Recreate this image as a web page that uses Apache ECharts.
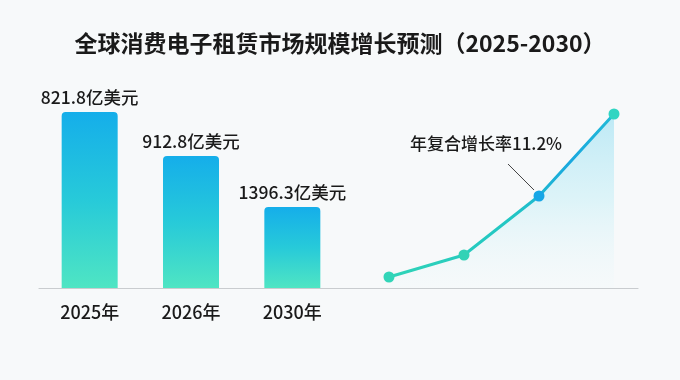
<!DOCTYPE html>
<html><head><meta charset="utf-8">
<script src="https://cdn.jsdelivr.net/npm/echarts@6/dist/echarts.min.js"></script>
<style>html,body{margin:0;padding:0;background:#f7f9fa;}#c{width:680px;height:380px;}</style>
</head><body><div id="c"></div>
<script>
// ---- data ----
const titleText = '全球消费电子租赁市场规模增长预测（2025-2030）';
const years = ['2025年', '2026年', '2030年'];
const marketValues = [821.8, 912.8, 1396.3];           // 亿美元 (label values)
const barHeights = [176, 132, 81];                     // bar heights as drawn in picture
const trendValues = [11, 33, 92, 174];                 // trend line as drawn in picture
const cagrText = '年复合增长率11.2%';
const cagrIndex = 2;

const FONT = '"Noto Sans CJK SC","Noto Sans",sans-serif';
const pointColors = ['#32d5b8', '#32d2b6', '#17a6e6', '#30d5c2'];

const chart = echarts.init(document.getElementById('c'), null, {renderer: 'canvas'});
const barGrad = new echarts.graphic.LinearGradient(0, 0, 0, 1, [
  {offset: 0, color: '#15aeea'}, {offset: 0.5, color: '#27cad9'}, {offset: 1, color: '#4fe5c3'}
]);
chart.setOption({
  backgroundColor: '#f7f9fa',
  textStyle: {fontFamily: FONT},
  title: {text: titleText, left: 'center', top: 27,
    textStyle: {fontSize: 23, fontWeight: 'bold', color: '#1a1a1a', fontFamily: FONT}},
  grid: [
    {left: 39, width: 304, top: 88, height: 200},
    {left: 343, width: 295, top: 88, height: 200}
  ],
  xAxis: [
    {type: 'category', gridIndex: 0, data: years,
      axisLine: {lineStyle: {color: '#c9cccf', width: 1.2}}, axisTick: {show: false},
      axisLabel: {fontSize: 18, fontWeight: 500, color: '#1a1a1a', margin: 15, fontFamily: FONT}},
    {type: 'value', gridIndex: 1, min: -0.613, max: 3.32,
      axisLine: {show: true, onZero: false, lineStyle: {color: '#c9cccf', width: 1.2}},
      axisTick: {show: false}, axisLabel: {show: false}, splitLine: {show: false}}
  ],
  yAxis: [
    {type: 'value', gridIndex: 0, min: 0, max: 200, show: false},
    {type: 'value', gridIndex: 1, min: 0, max: 200, show: false}
  ],
  series: [
    {type: 'bar', xAxisIndex: 0, yAxisIndex: 0, barWidth: 56,
      data: barHeights.map((h, i) => ({value: h, label: {formatter: marketValues[i] + '亿美元'}})),
      itemStyle: {color: barGrad, borderRadius: [4, 4, 0, 0]},
      label: {show: true, position: 'top', distance: 6, fontSize: 17.5, fontWeight: 500, color: '#1a1a1a', fontFamily: FONT}},
    {type: 'line', xAxisIndex: 1, yAxisIndex: 1,
      data: trendValues.map((v, i) => ({value: [i, v], itemStyle: {color: pointColors[i]}})),
      symbol: 'circle', symbolSize: 11,
      lineStyle: {width: 3, color: new echarts.graphic.LinearGradient(0, 0, 1, 0, [
        {offset: 0, color: '#30d4b7'}, {offset: 0.55, color: '#22c6c4'},
        {offset: 0.8, color: '#1aa8df'}, {offset: 1, color: '#22bcd6'}])},
      itemStyle: {borderWidth: 0},
      areaStyle: {color: new echarts.graphic.LinearGradient(0, 0, 0, 1, [
        {offset: 0, color: 'rgba(120,214,240,0.65)'}, {offset: 0.5, color: 'rgba(165,232,244,0.45)'},
        {offset: 1, color: 'rgba(225,247,250,0.1)'}])},
      z: 3}
  ]
});
const p = chart.convertToPixel({xAxisIndex: 1, yAxisIndex: 1}, [cagrIndex, trendValues[cagrIndex]]);
chart.setOption({graphic: [
  {type: 'line', shape: {x1: p[0] - 31, y1: p[1] - 32, x2: p[0] - 5, y2: p[1] - 6},
    style: {stroke: '#444', lineWidth: 1}, z: 10},
  {type: 'text', x: p[0] - 53, y: p[1] - 52,
    style: {text: cagrText, fill: '#1a1a1a', font: '500 17px ' + FONT,
      textAlign: 'center', textVerticalAlign: 'middle'}, z: 10}
]});
</script></body></html>
